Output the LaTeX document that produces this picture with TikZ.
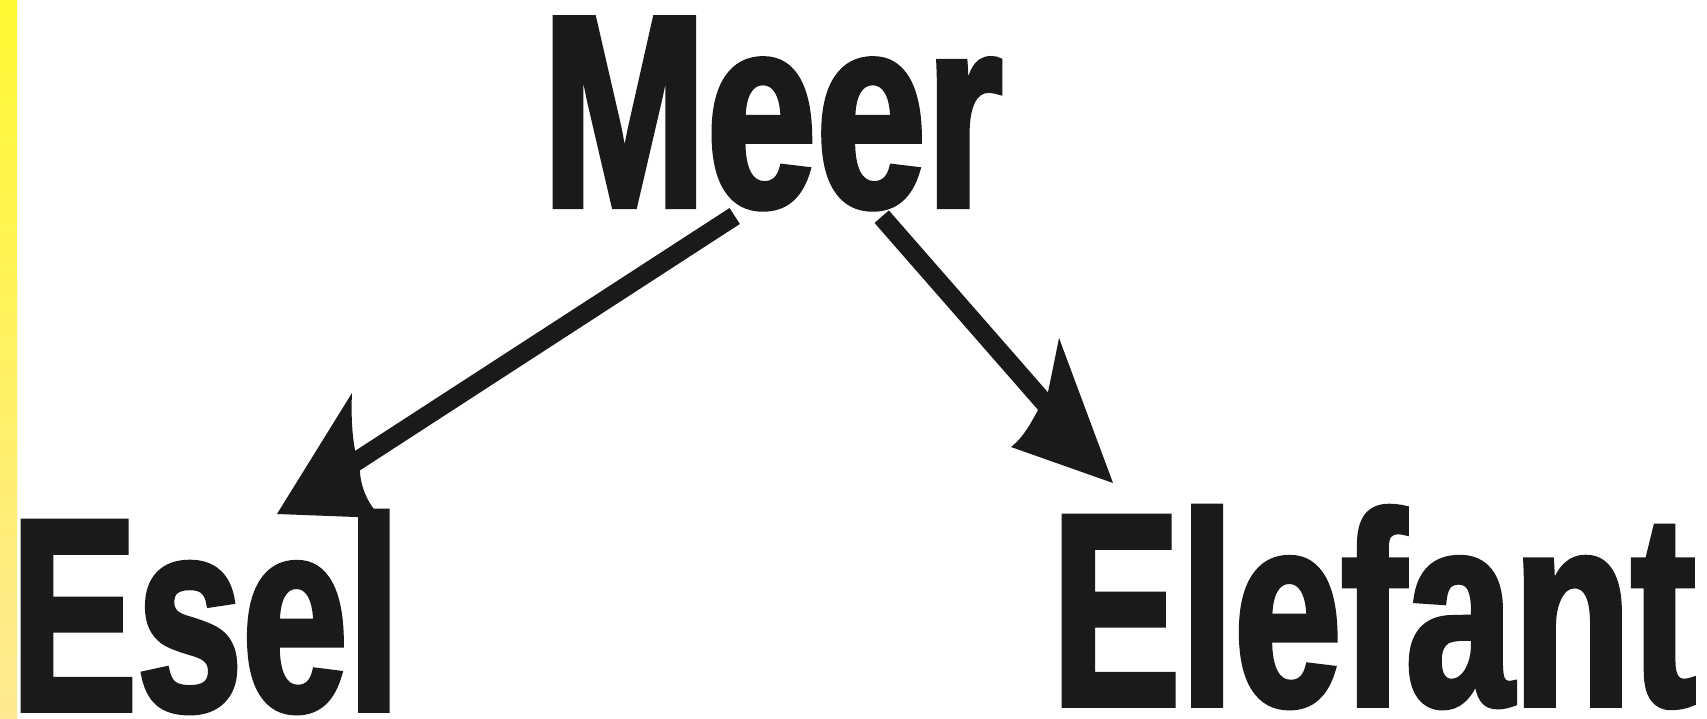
\documentclass[tikz,border=0pt]{standalone}
\usepackage{fontspec}
\usepackage{tikz}
\usetikzlibrary{calc}
\newfontfamily\wordfont{Liberation Sans}[BoldFeatures={FakeBold=2}]
\definecolor{inkblack}{HTML}{1B1919}
\definecolor{stripetop}{HTML}{FFF933}
\definecolor{stripebottom}{HTML}{FFE891}
\tikzset
{
    word/.style = {font=\wordfont\bfseries\addfontfeature{FakeStretch=#1}\fontsize{274}{300}\selectfont, text=inkblack, inner sep=0pt, anchor=base},
    link/.style = {draw=inkblack, line width=19pt},
    head/.style = {fill=inkblack}
}
\begin{document}
\begin{tikzpicture}[x=1pt, y=-1pt]
	\fill[white] (0,0) rectangle (1707,719);
	\useasboundingbox (0,0) rectangle (1707,719);
	\shade[top color=stripetop, bottom color=stripebottom] (0,0) rectangle (17,719);
	% the three words
	\node[word=0.72] (meer) at (772.5,206.3) {Meer};
	\node[word=0.691] (esel) at (205.5,710) {Esel};
	\node[word=0.705] (elefant) at (1373.5,705) {Elefant};
	% where the arrows start and end
	\coordinate (meerleft) at ($(meer.base)+(-37.8,9.7)$);
	\coordinate (meerright) at ($(meer.base)+(109.2,10.4)$);
	\coordinate (eseltip) at ($(esel.base)+(71.5,-196)$);
	\coordinate (elefanttip) at ($(elefant.base)+(-260.5,-222)$);
	% shafts
	\draw[link] (meerleft) -- ($(eseltip)+(63,-42)$);
	\draw[link] (meerright) -- ($(elefanttip)+(-57,-67)$);
	% heads
	\fill[head, shift={(eseltip)}] (0,0) -- (75,-121) .. controls (74,-100) and (75,-80) .. (78,-64)
		-- (83,-42) .. controls (84,-25) and (92,-8) .. (105,4) -- cycle;
	\fill[head, shift={(elefanttip)}] (0,0) -- (-54,-145) .. controls (-58,-125) and (-62,-105) .. (-65,-91)
		-- (-75,-73) .. controls (-82,-60) and (-90,-45) .. (-102,-36) -- cycle;
\end{tikzpicture}
\end{document}
